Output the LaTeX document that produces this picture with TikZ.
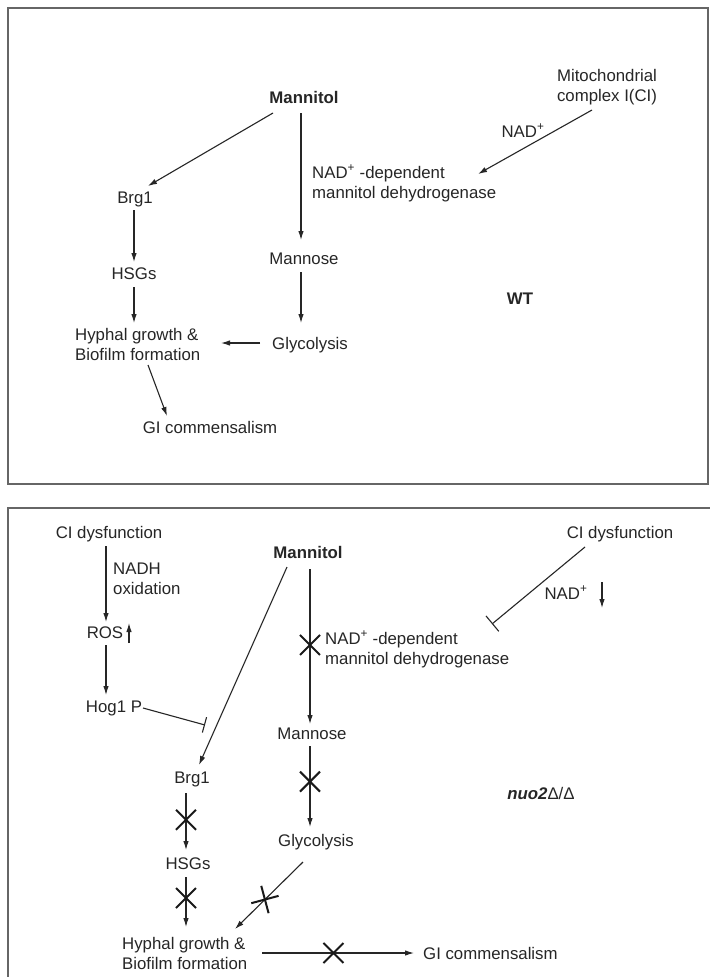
\documentclass[tikz,border=0pt]{standalone}
\usepackage{fontspec}
\setmainfont{Liberation Sans}
\usetikzlibrary{arrows.meta,calc,shapes.misc}
\begin{document}
\begin{tikzpicture}[x=1pt,y=-1pt,
  every node/.style={font=\fontsize{16.8}{20}\selectfont, inner sep=0pt, text=black!85, text height=14pt, text depth=2pt},
  lblL/.style={anchor=west, align=left},
  arr/.style={draw=black!85, line width=1.1pt, -{Latex[length=9pt,width=5.5pt]}},
  inh/.style={draw=black!85, line width=1.1pt, -{Bar[width=16pt]}},
  inhb/.style={draw=black!85, line width=1.1pt, -{Bar[width=20pt]}},
  xmark/.style={cross out, draw=black!90, line width=2pt, minimum size=18pt, inner sep=0pt, text height=0pt, text depth=0pt},
  frame/.style={draw=black!60, line width=2pt}]
\fill[white] (0,0) rectangle (710,977);
\useasboundingbox (0,0) rectangle (710,977);
% frames
\draw[frame] (8,8) rectangle (708,484);
\draw[frame] (8,977) -- (8,508) -- (710,508);

% ---------- WT panel ----------
% (multi-line nodes are placed by their last line)
\node (mannitolA) at (304,97) {\textbf{Mannitol}};
\node[align=center] (mito) at (607,95) {Mitochondrial\\complex I(CI)};
\node (nadA) at (523,131) {NAD\textsuperscript{+}};
\node[lblL] (mdhA) at (312,192) {NAD\textsuperscript{+} -dependent\\mannitol dehydrogenase};
\node (brgA) at (135,197) {Brg1};
\node (mannoseA) at (304,258) {Mannose};
\node (hsgA) at (134,273) {HSGs};
\node (wt) at (520,298) {\textbf{WT}};
\node[lblL] (hyphA) at (75,354) {Hyphal growth \&\\Biofilm formation};
\node[anchor=west] (glyA) at (272,343) {Glycolysis};
\node (giA) at (210,427) {GI commensalism};

\draw[arr] ($(mannitolA)+(-31,16)$) -- ($(brgA)+(13,-11)$);
\draw[arr] ($(mannitolA)+(-3,16)$) -- ($(mannoseA)+(-3,-18)$);
\draw[arr] ($(mito)+(-15,15)$) -- ($(mdhA.west)+(166,-18)$);
\draw[arr] ($(brgA)+(-1,13)$) -- ($(hsgA)+(0,-11)$);
\draw[arr] ($(hsgA)+(0,14)$) -- ($(hyphA.west)+(59,-31)$);
\draw[arr] ($(mannoseA)+(-3,14)$) -- ($(glyA.west)+(29,-20)$);
\draw[arr] ($(glyA.west)+(-12,0)$) -- ($(hyphA.west)+(146,-11)$);
\draw[arr] ($(hyphA.west)+(73,11)$) -- ($(giA)+(-43,-11)$);

% ---------- nuo2 panel ----------
\node (ciL) at (109,532) {CI dysfunction};
\node[lblL] (nadhL) at (113,588) {NADH\\oxidation};
\node (ros) at (105,632) {ROS};
\node (hog) at (114,706) {Hog1 P};
\node (mannitolB) at (308,552) {\textbf{Mannitol}};
\node (ciR) at (620,532) {CI dysfunction};
\node (nadR) at (566,593) {NAD\textsuperscript{+}};
\node[lblL] (mdhB) at (325,658) {NAD\textsuperscript{+} -dependent\\mannitol dehydrogenase};
\node (mannoseB) at (312,733) {Mannose};
\node (brgB) at (192,777) {Brg1};
\node (nuo) at (541,793) {\textbf{\textit{nuo2}}Δ/Δ};
\node (glyB) at (316,840) {Glycolysis};
\node (hsgB) at (188,863) {HSGs};
\node[lblL] (hyphB) at (122,963) {Hyphal growth \&\\Biofilm formation};
\node[anchor=west] (giB) at (423,953) {GI commensalism};

\draw[arr] ($(ciL)+(-3,14)$) -- ($(ros)+(1,-10)$);
\draw[arr] ($(ros)+(1,13)$) -- ($(hog)+(-8,-11)$);
\draw[arr] ($(ros)+(24,11)$) -- ($(ros)+(24,-9)$);
\draw[inh] ($(hog)+(29,2)$) -- ($(hog)+(91,19)$);
\draw[arr] ($(mannitolB)+(-21,15)$) -- ($(brgB)+(7,-12)$);
\draw[arr] ($(mannitolB)+(2,17)$) -- node[xmark,pos=0.49]{} ($(mannoseB)+(-2,-9)$);
\draw[inhb] ($(ciR)+(-35,15)$) -- ($(mdhB.west)+(167,-34)$);
\draw[arr] ($(nadR)+(36,-11)$) -- ($(nadR)+(36,15)$);
\draw[arr] ($(mannoseB)+(-2,13)$) -- node[xmark,pos=0.44]{} ($(glyB)+(-6,-13)$);
\draw[arr] ($(brgB)+(-6,16)$) -- node[xmark,pos=0.47]{} ($(hsgB)+(-2,-13)$);
\draw[arr] ($(hsgB)+(-2,14)$) -- node[xmark,pos=0.42]{} ($(hyphB.west)+(64,-36)$);
\draw[arr] ($(glyB)+(-13,22)$) -- node[xmark,rotate=-30,pos=0.56]{} ($(hyphB.west)+(113,-34)$);
\draw[arr] ($(hyphB.west)+(140,-10)$) -- node[xmark,pos=0.47]{} ($(giB.west)+(-9,0)$);
\end{tikzpicture}
\end{document}
